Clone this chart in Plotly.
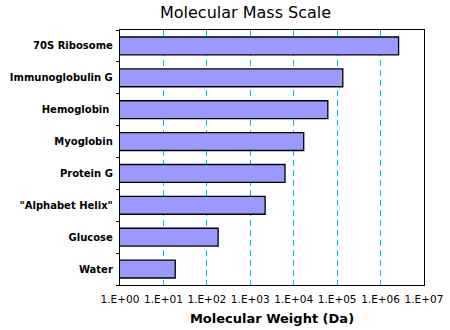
import plotly.graph_objects as go

categories = ["Water", "Glucose", "\"Alphabet Helix\"", "Protein G", "Myoglobin",
              "Hemoglobin ", "Immunoglobulin G", "70S Ribosome"]
masses = [18.7, 182, 2200, 6300, 17000, 61000, 135000, 2600000]
tick_vals = [1, 10, 100, 1e3, 1e4, 1e5, 1e6, 1e7]
tick_text = ["1.E+00", "1.E+01", "1.E+02", "1.E+03", "1.E+04", "1.E+05", "1.E+06", "1.E+07"]

fig = go.Figure(go.Bar(
    y=categories, x=masses, orientation="h",
    marker=dict(color="#9999ff", line=dict(color="black", width=1.3)),
    width=0.56,
))

fig.update_layout(
    width=450, height=330,
    margin=dict(l=120, r=26, t=30, b=45),
    paper_bgcolor="white", plot_bgcolor="white",
    showlegend=False,
    title=dict(text="Molecular Mass Scale", x=0.413, xref="paper", xanchor="center",
               y=0.962, yanchor="middle",
               font=dict(family="DejaVu Sans", size=16, color="black")),
    font=dict(family="DejaVu Sans", color="black"),
)
fig.update_xaxes(
    type="log", range=[0, 7.0001],
    tickvals=tick_vals, ticktext=tick_text, tickangle=0,
    tickfont=dict(family="DejaVu Sans", size=10.5),
    showgrid=True, gridcolor="#00c4f0", gridwidth=1, griddash="6px,4px",
    showline=True, linecolor="black", linewidth=1.3, mirror=True,
    ticks="", zeroline=False, automargin=False, ticklabelstandoff=4,
    title=dict(text="<b>Molecular Weight (Da)</b>", font=dict(size=13), standoff=10),
)
fig.update_yaxes(
    showline=True, linecolor="black", linewidth=1.3, mirror=True,
    ticks="outside", ticklen=3, tickcolor="black", tickson="boundaries",
    tickfont=dict(family="DejaVu Sans", size=10, weight="bold"),
    showgrid=False, ticklabelstandoff=4, automargin=False,
)

fig.write_html("out.html")
